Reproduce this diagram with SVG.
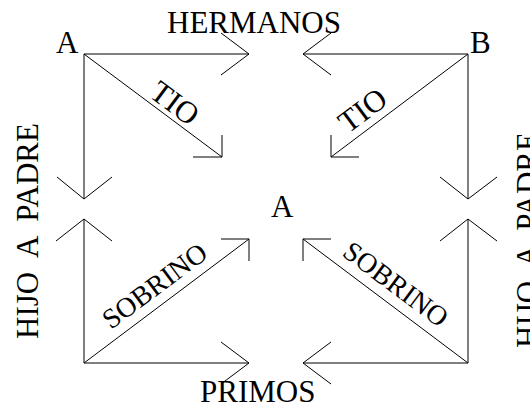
<svg xmlns="http://www.w3.org/2000/svg" width="530" height="408" viewBox="0 0 530 408">
<style>
.e{fill:none;stroke:#000;stroke-width:1}
.t{font-family:"Liberation Serif","Times New Roman",serif;font-size:31px;fill:#000}
.s{font-size:28px}
</style>
<rect width="530" height="408" fill="#fff"/>
<g id="connectors">
<g id="e-hermanos-a">
<path class="e" d="M84,54 L249,54 M221,33 L249,54 L221,75"/>
</g>
<g id="e-hermanos-b">
<path class="e" d="M468,54 L303,54 M331,33 L303,54 L331,75"/>
</g>
<g id="e-tio-a">
<path class="e" d="M84,54 L222,157 M222,135 L222,157 L193,157"/>
<text class="t" transform="translate(148,96) rotate(36.7)">TIO</text>
</g>
<g id="e-tio-b">
<path class="e" d="M468,54 L331,157 M331,135 L331,157 L359,157"/>
<text class="t" transform="translate(348,134) rotate(-36.7)">TIO</text>
</g>
<g id="e-hijo-a">
<path class="e" d="M84,54 L84,199 M57,177 L84,199 L112,177"/>
</g>
<g id="e-hijo-b">
<path class="e" d="M468,54 L468,199 M440,177 L468,199 L497,177"/>
</g>
<g id="e-padre-a">
<path class="e" d="M84,363 L84,219 M56,241 L84,219 L112,241"/>
</g>
<g id="e-padre-b">
<path class="e" d="M468,363 L468,219 M440,241 L468,219 L497,241"/>
</g>
<g id="e-sobrino-a">
<path class="e" d="M84,363 L249,239 M221,239 L249,239 L249,261"/>
<text class="t s" transform="translate(111,330) rotate(-36.7)">SOBRINO</text>
</g>
<g id="e-sobrino-b">
<path class="e" d="M468,363 L303,239 M331,239 L303,239 L303,261"/>
<text class="t s" transform="translate(341,255) rotate(36.7)">SOBRINO</text>
</g>
<g id="e-primos-a">
<path class="e" d="M84,363 L249,363 M221,342 L249,363 L221,384"/>
</g>
<g id="e-primos-b">
<path class="e" d="M468,363 L303,363 M331,342 L303,363 L331,384"/>
</g>
</g>
<g id="label-hermanos"><text class="t" x="167" y="33">HERMANOS</text></g>
<g id="label-primos"><text class="t" x="200" y="402">PRIMOS</text></g>
<g id="label-hijo-left"><text class="t" text-anchor="middle" xml:space="preserve" transform="translate(38,231) rotate(-90)">HIJO  A  PADRE</text></g>
<g id="label-hijo-right"><text class="t" text-anchor="middle" xml:space="preserve" transform="translate(538,240) rotate(-90)">HIJO  A  PADRE</text></g>
<g id="node-a"><text class="t" x="56" y="53">A</text></g>
<g id="node-b"><text class="t" x="470" y="53">B</text></g>
<g id="node-a-center"><text class="t" x="271" y="217">A</text></g>
</svg>
